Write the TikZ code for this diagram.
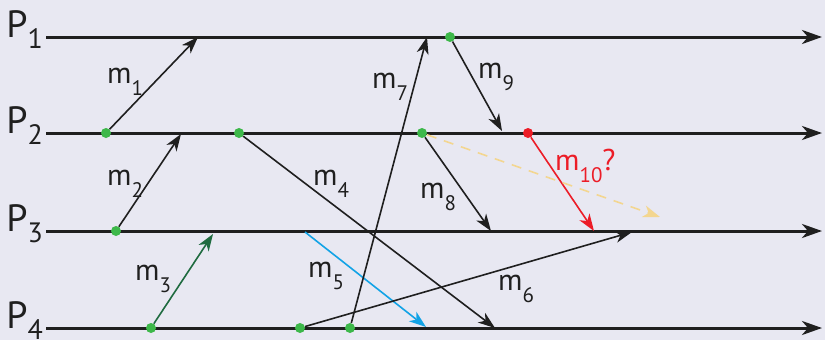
\documentclass[tikz,border=0pt]{standalone}
\usepackage{fontspec}
\setmainfont{PT Sans}
\usetikzlibrary{arrows.meta, positioning}

\definecolor{bgcol}{HTML}{E8E8F2}
\definecolor{dotgreen}{HTML}{3DB84A}
\definecolor{darkgreen}{HTML}{1F6B40}
\definecolor{msgblue}{HTML}{12A3E6}
\definecolor{msgred}{HTML}{EC1C27}
\definecolor{dashorange}{HTML}{F3D690}

\newcommand{\psub}[1]{\raisebox{-11pt}{\fontsize{28}{28}\selectfont #1}}
\newcommand{\msub}[1]{\raisebox{-12pt}{\fontsize{21}{21}\selectfont #1}}

\begin{document}
\begin{tikzpicture}[
		x=1pt, y=-1pt,
		>=Stealth,
		proc/.style={line width=3pt, -{Stealth[length=20pt, width=14pt, inset=6pt]}, black!88},
		msg/.style={line width=1.6pt, -{Stealth[length=17pt, width=12pt, inset=5pt]}, black!88},
		dot/.style={circle, fill=dotgreen, inner sep=0pt, minimum size=10pt},
		plabel/.style={font=\fontsize{38}{38}\selectfont, inner sep=0pt, anchor=base east, text=black!88},
		mlabel/.style={font=\fontsize{30}{30}\selectfont, inner sep=0pt, anchor=base west, text=black!88}
		]
		
		% Background
		\fill[bgcol] (0,0) rectangle (825,340);
		\useasboundingbox (0,0) rectangle (825,340);
		
		% Process lines
		\foreach \i/\y in {1/37, 2/133, 3/231, 4/328} {
			\coordinate (s\i) at (46,\y);
			\coordinate (e\i) at (822,\y);
			\draw[proc] (s\i) -- (e\i);
			\node[plabel] (P\i) at (43,\y) {P\psub{\i}};
		}
		
		% Send events
		\node[dot] (m1s) at (106,133) {};
		\node[dot] (m2s) at (116,231) {};
		\node[dot] (m3s) at (151,328) {};
		\node[dot] (m4s) at (239,133) {};
		\node[dot] (m6s) at (300,328) {};
		\node[dot] (m7s) at (350,328) {};
		\node[dot] (m8s) at (422,133) {};
		\node[dot] (m9s) at (450,37) {};
		\node[dot, fill=msgred] (m10s) at (528,133) {};
		
		% Receive points
		\coordinate (m1r) at (198,37);
		\coordinate (m2r) at (181,134);
		\coordinate (m3r) at (213,234);
		\coordinate (m4r) at (495,328);
		\coordinate (m5s) at (305,232);
		\coordinate (m5r) at (426,327);
		\coordinate (m6r) at (632,232);
		\coordinate (m7r) at (427,37);
		\coordinate (m8r) at (491,231);
		\coordinate (m9r) at (502,131);
		\coordinate (m10r) at (594,231);
		\coordinate (m8x) at (660,217);
		
		% Messages
		\draw[msg] (m1s) -- (m1r);
		\draw[msg] (m2s) -- (m2r);
		\draw[msg, darkgreen] (m3s) -- (m3r);
		\draw[msg] (m4s) -- (m4r);
		\draw[msg, msgblue] (m5s) -- (m5r);
		\draw[msg] (m6s) -- (m6r);
		\draw[msg] (m7s) -- (m7r);
		\draw[msg] (m8s) -- (m8r);
		\draw[msg] (m9s) -- (m9r);
		\draw[msg, msgred] (m10s) -- (m10r);
		% Delayed copy of m8
		\draw[msg, dashorange, dash pattern=on 10pt off 8pt] (m8s) -- (m8x);
		
		% Message labels
		\node[mlabel] (l1) at (107,83) {m\msub{1}};
		\node[mlabel] (l2) at (107,185) {m\msub{2}};
		\node[mlabel] (l3) at (135,280) {m\msub{3}};
		\node[mlabel] (l4) at (313,185) {m\msub{4}};
		\node[mlabel] (l5) at (308,277) {m\msub{5}};
		\node[mlabel] (l6) at (498,290) {m\msub{6}};
		\node[mlabel] (l7) at (372,88) {m\msub{7}};
		\node[mlabel] (l8) at (420,198) {m\msub{8}};
		\node[mlabel] (l9) at (478,78) {m\msub{9}};
		\node[mlabel, text=msgred] (l10) at (555,170) {m\msub{10}?};
		
	\end{tikzpicture}
\end{document}
